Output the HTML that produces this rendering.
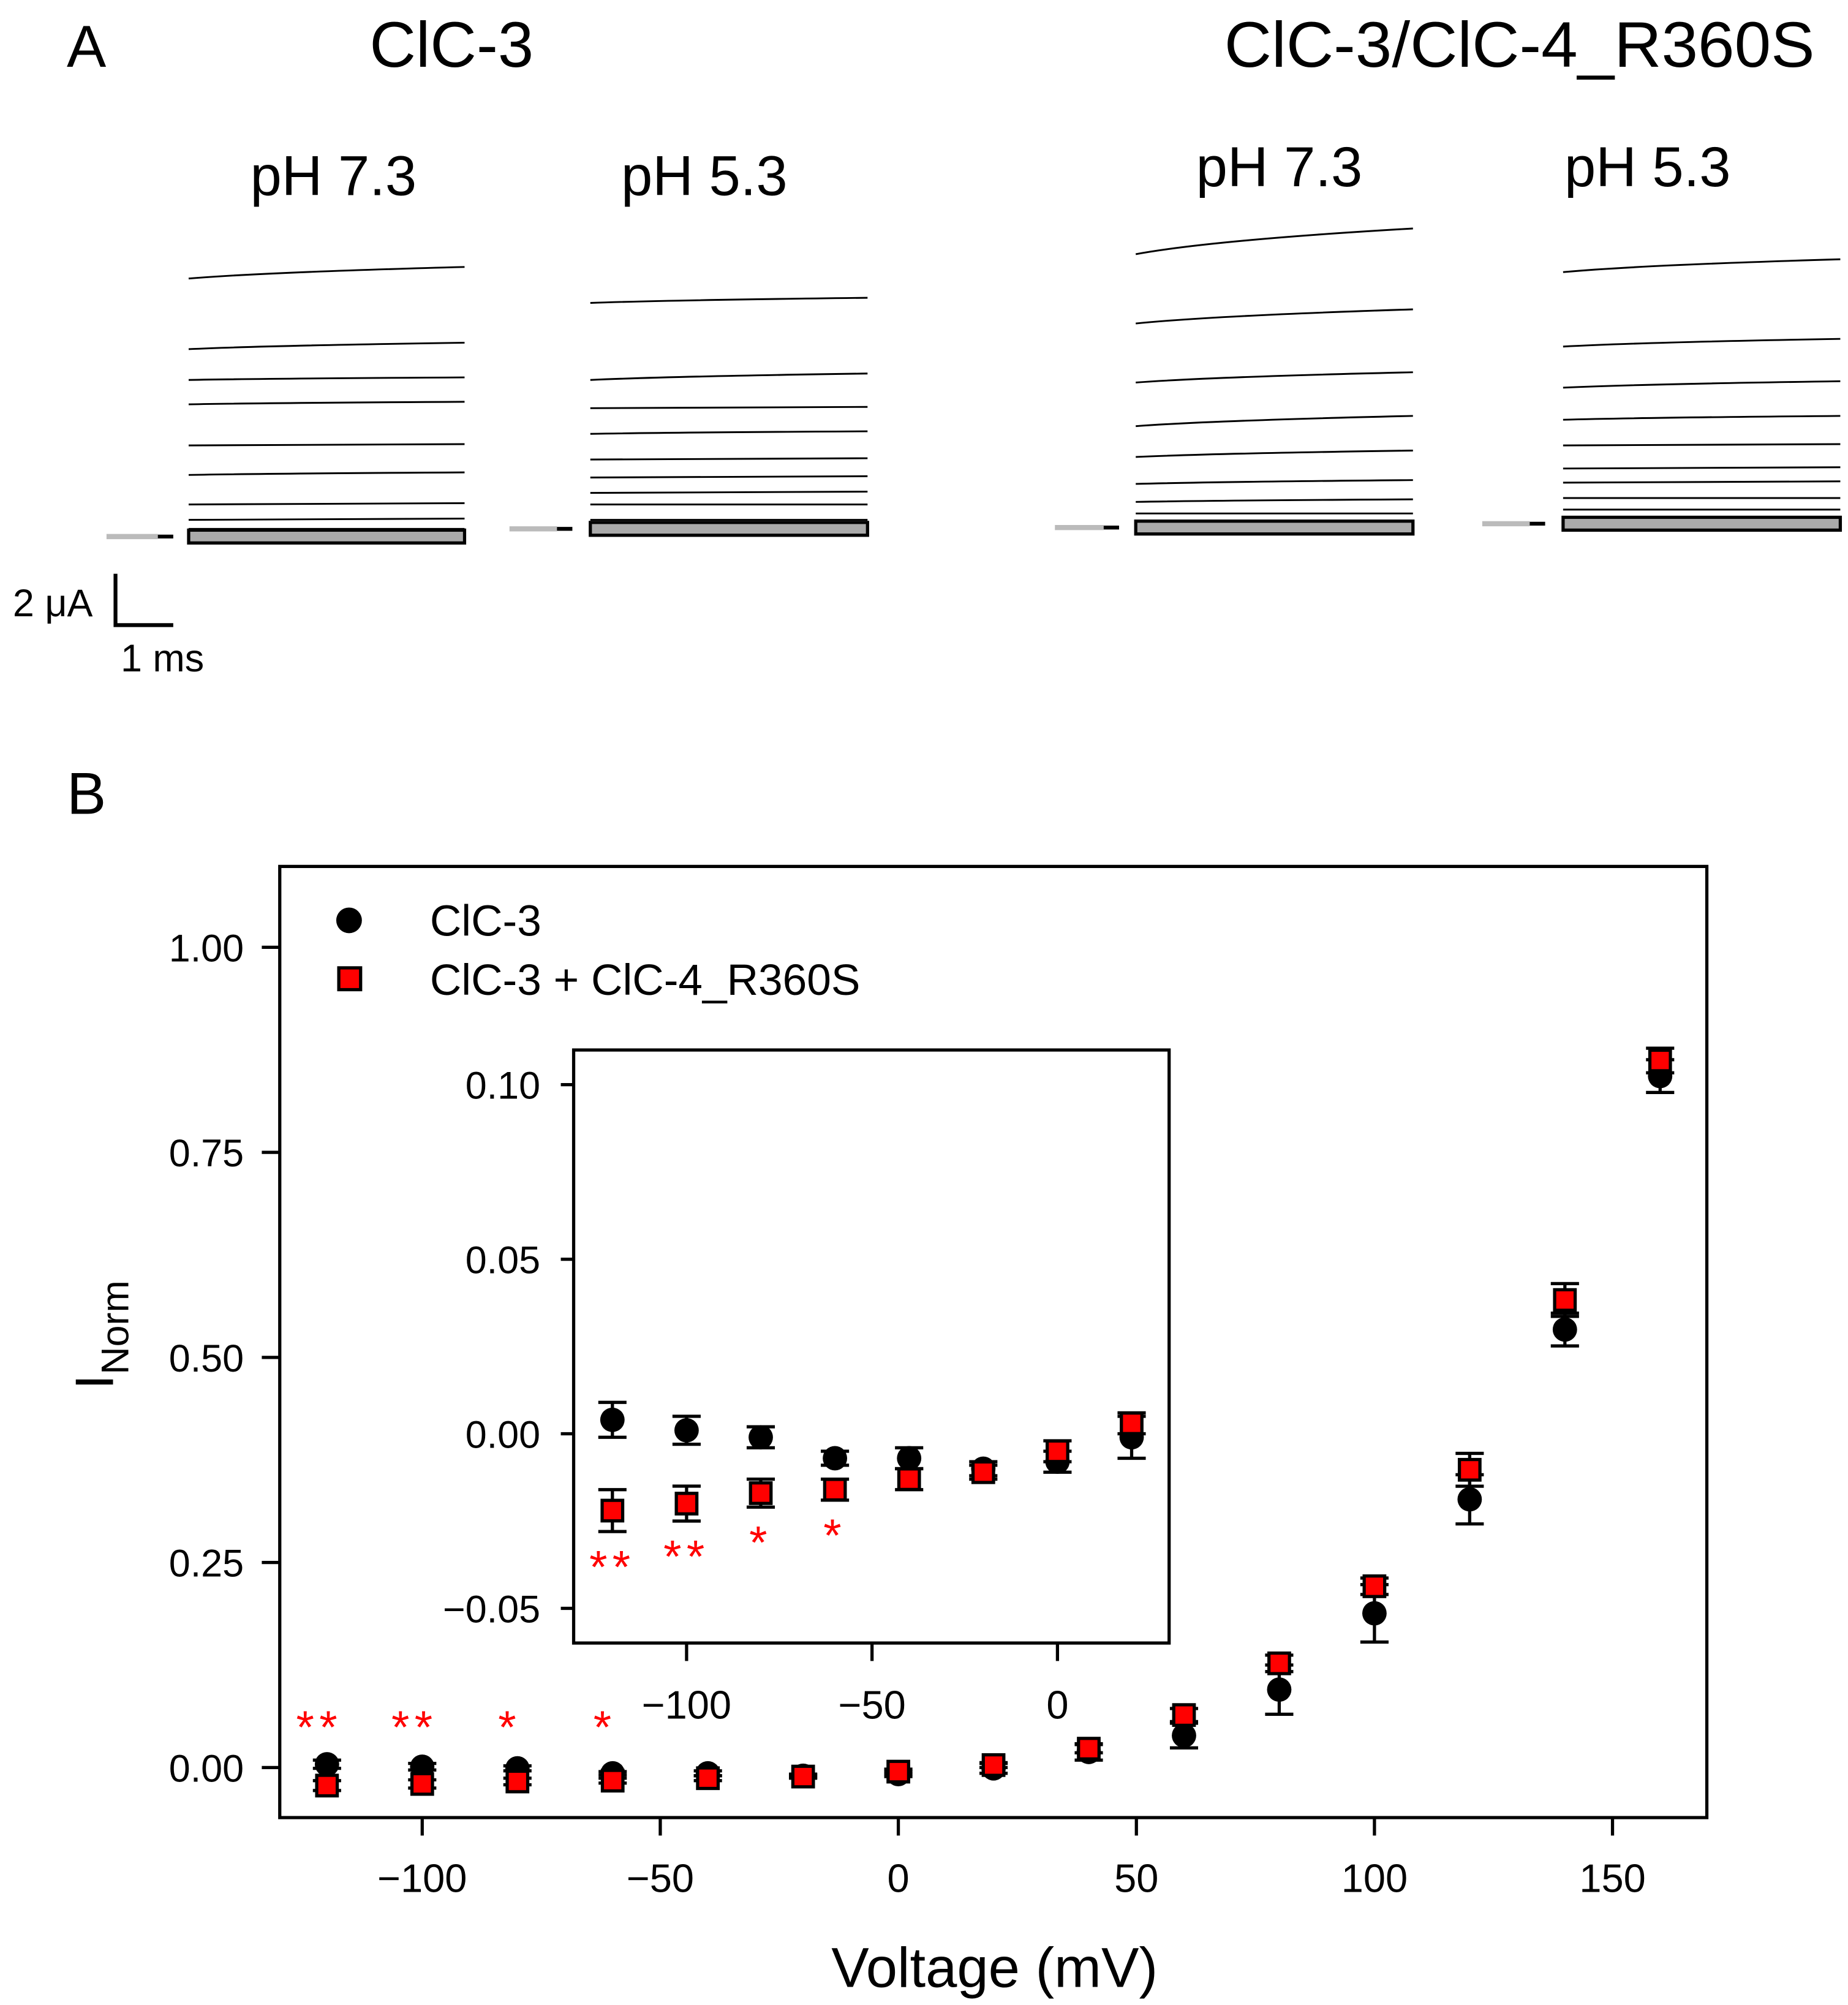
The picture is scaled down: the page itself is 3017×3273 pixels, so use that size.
<!DOCTYPE html>
<html><head><meta charset="utf-8"><style>
html,body{margin:0;padding:0;background:#fff}
svg{display:block}
text{font-family:"Liberation Sans",Arial,sans-serif}
</style></head><body>
<svg id="fig" width="3017" height="3273" viewBox="0 0 1440 1562" preserveAspectRatio="none" xmlns="http://www.w3.org/2000/svg">
<g id="panelA">
<text x="52" y="52" font-size="46">A</text>
<text x="288" y="52" font-size="50">ClC-3</text>
<text x="954" y="52" font-size="50" textLength="460" lengthAdjust="spacingAndGlyphs">ClC-3/ClC-4_R360S</text>
<text x="195" y="152" font-size="44">pH 7.3</text>
<text x="484" y="152" font-size="44">pH 5.3</text>
<text x="932" y="145" font-size="44">pH 7.3</text>
<text x="1219" y="145" font-size="44">pH 5.3</text>
<g id="traces"></g>
<g>
<path d="M90,447 V487 H135" fill="none" stroke="#000" stroke-width="3"/>
<text x="10" y="480" font-size="30">2 μA</text>
<text x="94" y="523" font-size="30">1 ms</text>
</g>
</g>
<g id="panelB">
<text x="52" y="634" font-size="46">B</text>
<rect x="218" y="675" width="1112" height="741" fill="none" stroke="#000" stroke-width="2.5"/>
<g id="mainAxes"></g>
<text x="775" y="1548" font-size="44" text-anchor="middle">Voltage (mV)</text>
<text transform="translate(88,1040) rotate(-90)" font-size="42" text-anchor="middle">I<tspan font-size="30" dy="12">Norm</tspan></text>
<g>
<circle cx="272" cy="717" r="10" fill="#000"/>
<text x="335" y="729" font-size="34">ClC-3</text>
<rect x="264" y="754" width="17" height="17" fill="#f00" stroke="#000" stroke-width="2.5"/>
<text x="335" y="775" font-size="34">ClC-3 + ClC-4_R360S</text>
</g>
<rect x="447" y="818" width="464" height="462" fill="#fff" stroke="#000" stroke-width="2.5"/>
<g id="insetAxes"></g>
<g id="mainMarks"></g>
<g id="insetMarks"></g>
</g>
</svg>
<script>
var NS="http://www.w3.org/2000/svg";
// ---- data ----
var voltages=[-120,-100,-80,-60,-40,-20,0,20,40,60,80,100,120,140,160];
var clc3Mean=[0.004,0.001,-0.001,-0.007,-0.007,-0.01,-0.008,-0.001,0.019,0.039,0.095,0.188,0.327,0.534,0.843];
var clc3Err=[0.005,0.004,0.003,0.002,0.003,0.002,0.003,0.006,0.01,0.015,0.03,0.035,0.03,0.02,0.02];
var mixMean=[-0.022,-0.02,-0.017,-0.016,-0.013,-0.011,-0.005,0.003,0.023,0.064,0.127,0.221,0.363,0.57,0.862];
var mixErr=[0.006,0.005,0.004,0.003,0.003,0.002,0.003,0.003,0.005,0.008,0.01,0.01,0.02,0.02,0.015];
var starLabels=["**","**","*","*"];
var mainXTicks=[-100,-50,0,50,100,150];
var mainYTicks=[0,0.25,0.5,0.75,1.0];
var mainYLabels=["0.00","0.25","0.50","0.75","1.00"];
var insetXTicks=[-100,-50,0];
var insetYTicks=[-0.05,0,0.05,0.1];
var insetYLabels=["\u22120.05","0.00","0.05","0.10"];
var insetVoltages=[-120,-100,-80,-60,-40,-20,0,20];
var traceP1=[[217,208],[272,267],[296,294],[315,313],[347,346],[370,368],[393,392],[405,404],[412,412],[418,418]];
var traceP2=[[236,232],[296,291],[318,317],[338,336],[358,357],[372,371],[384,383],[393,393],[405,405],[413,413]];
var traceP3=[[198,178],[252,241],[298,290],[332,324],[356,351],[377,374],[391,389],[400,400],[406,406],[412,412]];
var traceP4=[[212,202],[270,264],[302,297],[327,324],[347,346],[365,364],[376,375],[388,388],[397,397],[409,409]];
function mk(tag,attrs,parent){var e=document.createElementNS(NS,tag);for(var k in attrs)e.setAttribute(k,attrs[k]);parent.appendChild(e);return e;}
function mx(v){return 700+(v)*3.71;}
function my(v){return 1377-v*639;}
function ix(v){return 824+v*2.89;}
function iy(v){return 1117-v*2720;}
var tg=document.getElementById('traces');
var panels=[[traceP1,147,362,83,135,418],[traceP2,460,676,397,446,412],[traceP3,885,1101,822,872,411],[traceP4,1218,1434,1155,1204,408]];
panels.forEach(function(p,pi){
  p[0].forEach(function(t,i){
    var l=mk('path',{d:'M'+p[1]+','+t[0]+' Q'+(p[1]+60)+','+(t[0]+(t[1]-t[0])*0.55)+' '+p[2]+','+t[1],fill:'none',stroke:'#000','stroke-width':1.4},tg);
    
    
  });
  var b=mk('rect',{x:p[1],y:p[5]-5,width:p[2]-p[1],height:10,fill:'#aaa',stroke:'#000','stroke-width':2.5},tg);
  
  
  var g=mk('line',{x1:p[3],y1:p[5],x2:p[4]-12,y2:p[5],stroke:'#bbb','stroke-width':4},tg);
  
  
  var k=mk('line',{x1:p[4]-12,y1:p[5],x2:p[4],y2:p[5],stroke:'#000','stroke-width':3},tg);
  
  
});
var ma=document.getElementById('mainAxes');
mainXTicks.forEach(function(v){
  var t=mk('line',{x1:mx(v),y1:1416,x2:mx(v),y2:1430,stroke:'#000','stroke-width':2.5},ma);
  
  
  var s=mk('text',{x:mx(v),y:1474,'font-size':31,'text-anchor':'middle'},ma);
  s.textContent=(v<0?'\u2212'+(-v):v);
  
  
});
mainYTicks.forEach(function(v,i){
  var t=mk('line',{x1:204,y1:my(v),x2:218,y2:my(v),stroke:'#000','stroke-width':2.5},ma);
  
  
  var s=mk('text',{x:190,y:my(v)+11,'font-size':30,'text-anchor':'end'},ma);
  s.textContent=mainYLabels[i];
  
  
});
var ia=document.getElementById('insetAxes');
insetXTicks.forEach(function(v){
  var t=mk('line',{x1:ix(v),y1:1280,x2:ix(v),y2:1294,stroke:'#000','stroke-width':2.5},ia);
  
  
  var s=mk('text',{x:ix(v),y:1339,'font-size':31,'text-anchor':'middle'},ia);
  s.textContent=(v<0?'\u2212'+(-v):v);
  
  
});
insetYTicks.forEach(function(v,i){
  var t=mk('line',{x1:437,y1:iy(v),x2:447,y2:iy(v),stroke:'#000','stroke-width':2.5},ia);
  
  
  var s=mk('text',{x:421,y:iy(v)+11,'font-size':30,'text-anchor':'end'},ia);
  s.textContent=insetYLabels[i];
  
  
});
function errbar(g,x,y1,y2,cap){
  var e=mk('path',{d:'M'+x+','+y1+'V'+y2+'M'+(x-cap)+','+y1+'H'+(x+cap)+'M'+(x-cap)+','+y2+'H'+(x+cap),stroke:'#000','stroke-width':2.5,fill:'none'},g);
  
  
}
function drawSeries(g,vs,X,Y,r){
  vs.forEach(function(v){
    var i=voltages.indexOf(v);
    var x=X(v);
    errbar(g,x,Y(clc3Mean[i]+clc3Err[i]),Y(clc3Mean[i]-clc3Err[i]),11);
    var c=mk('circle',{cx:x,cy:Y(clc3Mean[i]),r:r,fill:'#000'},g);
    
    
  });
  vs.forEach(function(v){
    var i=voltages.indexOf(v);
    var x=X(v);
    errbar(g,x,Y(mixMean[i]+mixErr[i]),Y(mixMean[i]-mixErr[i]),11);
    var q=mk('rect',{x:x-8,y:Y(mixMean[i])-8,width:16,height:16,fill:'#f00',stroke:'#000','stroke-width':2.5},g);
    
    
  });
}
drawSeries(document.getElementById('mainMarks'),voltages,mx,my,9.5);
drawSeries(document.getElementById('insetMarks'),insetVoltages,ix,iy,9.5);
var mm=document.getElementById('mainMarks'),im=document.getElementById('insetMarks');
starLabels.forEach(function(s,i){
  var v=voltages[i];
  var a=mk('text',{x:mx(v)-6,y:1358,'font-size':36,fill:'#f00','text-anchor':'middle','letter-spacing':4},mm);
  a.textContent=s;
  
  
  var b=mk('text',{x:ix(v),y:iy(mixMean[i]-mixErr[i])+40,'font-size':36,fill:'#f00','text-anchor':'middle','letter-spacing':4},im);
  b.textContent=s;
  
  
});
</script>
</body></html>
